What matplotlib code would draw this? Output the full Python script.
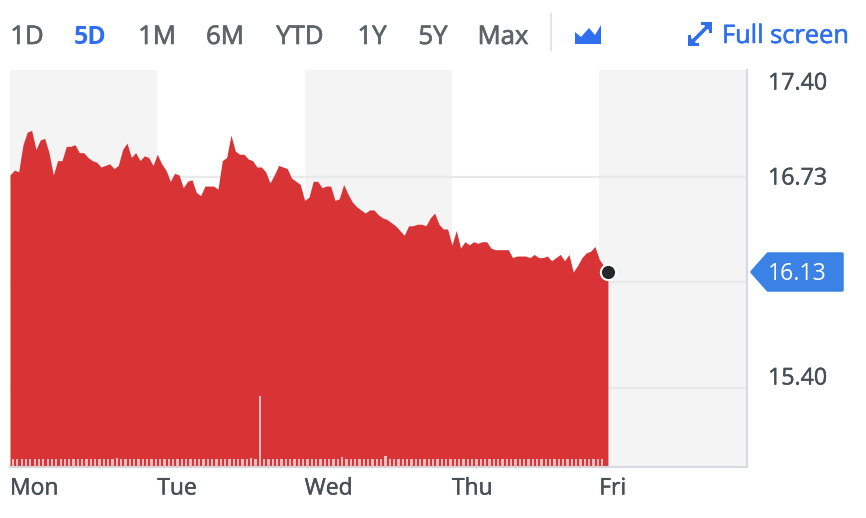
import matplotlib
matplotlib.use('Agg')
from matplotlib import pyplot as plt
from matplotlib import patheffects as pe
from matplotlib.patches import Polygon
import numpy as np

plt.rcParams['font.family'] = ['Open Sans', 'DejaVu Sans']

W, H = 866, 518

prices = [
    16.74, 16.77, 16.76, 16.93, 17.01, 17.02, 16.90, 16.96, 16.97, 16.88,
    16.74, 16.83, 16.83, 16.92, 16.92, 16.93, 16.88, 16.88, 16.85, 16.83,
    16.82, 16.79, 16.80, 16.81, 16.78, 16.80, 16.90, 16.94, 16.85, 16.88,
    16.83, 16.86, 16.85, 16.80, 16.87, 16.81, 16.77, 16.70, 16.75, 16.74,
    16.66, 16.70, 16.71, 16.63, 16.61, 16.67, 16.67, 16.67, 16.65, 16.83,
    16.85, 16.99, 16.89, 16.87, 16.87, 16.84, 16.83, 16.79, 16.79, 16.76,
    16.69, 16.74, 16.80, 16.79, 16.78, 16.72, 16.70, 16.68, 16.58, 16.60,
    16.70, 16.70, 16.66, 16.67, 16.67, 16.58, 16.59, 16.68, 16.62, 16.57,
    16.54, 16.52, 16.50, 16.52, 16.52, 16.49, 16.47, 16.46, 16.44, 16.42,
    16.39, 16.36, 16.42, 16.42, 16.43, 16.43, 16.42, 16.47, 16.50, 16.43,
    16.40, 16.40, 16.30, 16.39, 16.28, 16.32, 16.30, 16.32, 16.31, 16.32,
    16.32, 16.28, 16.27, 16.27, 16.27, 16.27, 16.22, 16.23, 16.23, 16.23,
    16.22, 16.24, 16.22, 16.22, 16.23, 16.20, 16.22, 16.24, 16.20, 16.24,
    16.13, 16.17, 16.22, 16.25, 16.26, 16.29, 16.21, 16.17, 16.13,
]
# volume in relative units (no scale on the chart)
volumes = [
    8, 8, 8, 8, 8, 8, 8, 8, 8, 8, 8, 8, 8, 8, 8, 8, 8, 8, 8, 8,
    8, 8, 8, 8, 9, 8, 8, 8, 8, 8, 8, 8, 8, 8, 8, 8, 8, 8, 8, 8,
    8, 8, 8, 8, 8, 8, 8, 8, 8, 8, 8, 8, 8, 8, 8, 9, 8, 71, 8, 8,
    8, 8, 8, 8, 8, 8, 8, 8, 8, 8, 8, 8, 8, 8, 8, 8, 10, 8, 8, 8,
    8, 8, 8, 8, 8, 8, 11, 8, 8, 8, 8, 8, 8, 8, 8, 8, 8, 8, 8, 8,
    8, 8, 8, 8, 8, 8, 8, 8, 8, 8, 8, 8, 8, 8, 8, 8, 8, 8, 8, 8,
    8, 8, 8, 8, 8, 8, 8, 8, 8, 8, 8, 8, 8, 8, 8, 8, 8,
]
day_labels = ['Mon', 'Tue', 'Wed', 'Thu', 'Fri']
price_ticks = ['17.40', '16.73', '15.40']
price_tick_py = [81, 176, 376]
grid_levels = [16.73, 16.067, 15.40]
last_price = 16.13
ranges = ['1D', '5D', '1M', '6M', 'YTD', '1Y', '5Y', 'Max']
range_x = [27, 90, 157, 225, 300, 372, 433, 503]

points_per_day = 34.0

fig = plt.figure(figsize=(W / 100, H / 100), dpi=100)

# chart area in pixels: x 10..747, y 70..467
ax = fig.add_axes([10 / W, 1 - 467 / H, 737 / W, 397 / H])
ax.set_xlim(0, 5.003)
per_px = (17.40 - 15.40) / 318.0
ax.set_ylim(17.40 - 397 * per_px, 17.40)

for d in [0, 2, 4]:
    ax.axvspan(d, d + 1, color='#f4f4f4', lw=0, zorder=0)
for lev in grid_levels:
    ax.axhline(lev, color='#e9e9ec', lw=1.6, zorder=1)

x = np.arange(len(prices)) / points_per_day
ax.fill_between(x, prices, ax.get_ylim()[0], color='#d83335', lw=0, zorder=2)

for s in ['top', 'left']:
    ax.spines[s].set_visible(False)
for s in ['bottom', 'right']:
    ax.spines[s].set_color('#d6dae0')
    ax.spines[s].set_linewidth(1.5)
ax.tick_params(length=0, labelleft=False, labelbottom=False)
ax.grid(False)

# volume bars on their own scale, 1 unit = 1 px
ax_vol = ax.twinx()
ax_vol.set_ylim(0, 397)
ax_vol.bar(x[:len(volumes)] + 0.02, volumes, width=0.015, color='#f4bcbe', lw=0, zorder=3)
ax_vol.axis('off')
ax_vol.patch.set_alpha(0)
ax_vol.plot(x[-1], last_price, 'o', ms=11, color='#24272b', mec='white', mew=1.5,
            clip_on=False, zorder=6, transform=ax.transData)

heavy = [pe.withStroke(linewidth=0.5, foreground='#5c6369')]
heavy_blue = [pe.withStroke(linewidth=0.4, foreground='#2f6fed')]
dark = [pe.withStroke(linewidth=0.3, foreground='#464e56')]


def px_text(px, py, s, **kw):
    # Open Sans sits a little high with va='center'
    fig.text(px / W, 1 - (py + 2.5) / H, s, va='center', **kw)


text_col = '#464e56'
for d, lab in enumerate(day_labels):
    px_text(10 + d * 147.3, 486, lab, color=text_col, fontsize=16.5, ha='left', path_effects=dark)
for lab, py in zip(price_ticks, price_tick_py):
    px_text(768, py, lab, color=text_col, fontsize=16.7, ha='left', path_effects=dark)

# top bar
for lab, px in zip(ranges, range_x):
    if lab == '5D':
        px_text(px, 35, lab, color='#2f6fed', fontsize=18, ha='center', fontweight='bold')
    else:
        px_text(px, 35, lab, color='#5c6369', fontsize=18.5, ha='center', path_effects=heavy)
px_text(722, 34, 'Full screen', color='#2f6fed', fontsize=18.3, ha='left', path_effects=heavy_blue)

over = fig.add_axes([0, 0, 1, 1])
over.set_xlim(0, W)
over.set_ylim(H, 0)
over.axis('off')
over.patch.set_alpha(0)
over.plot([551, 551], [14, 50], color='#e2e4e9', lw=1.5)
# area chart icon
over.add_patch(Polygon([(575, 32), (581, 37), (589, 28), (595, 35), (601, 25), (601, 44), (575, 44)],
                       color='#2f6fed', lw=0))
# full screen arrows
over.plot([693, 707], [41, 27], color='#2f6fed', lw=2.6)
over.add_patch(Polygon([(688, 46), (688, 35), (691, 35), (691, 43), (699, 43), (699, 46)], color='#2f6fed', lw=0))
over.add_patch(Polygon([(712, 22), (712, 33), (709, 33), (709, 25), (701, 25), (701, 22)], color='#2f6fed', lw=0))
over.add_patch(Polygon([(689, 45), (689, 36), (698, 45)], color='#2f6fed', lw=0))
over.add_patch(Polygon([(711, 23), (711, 32), (702, 23)], color='#2f6fed', lw=0))
# price flag, rounded by its thick edge
over.add_patch(Polygon([(752, 272), (768, 254), (842, 254), (842, 290), (768, 290)],
                       facecolor='#3a82e6', edgecolor='#3a82e6', lw=2.5, joinstyle='round'))
over.text(797, 274, '%.2f' % last_price, color='white', fontsize=16.7, ha='center', va='center')

fig.savefig('out.png', dpi=100)
